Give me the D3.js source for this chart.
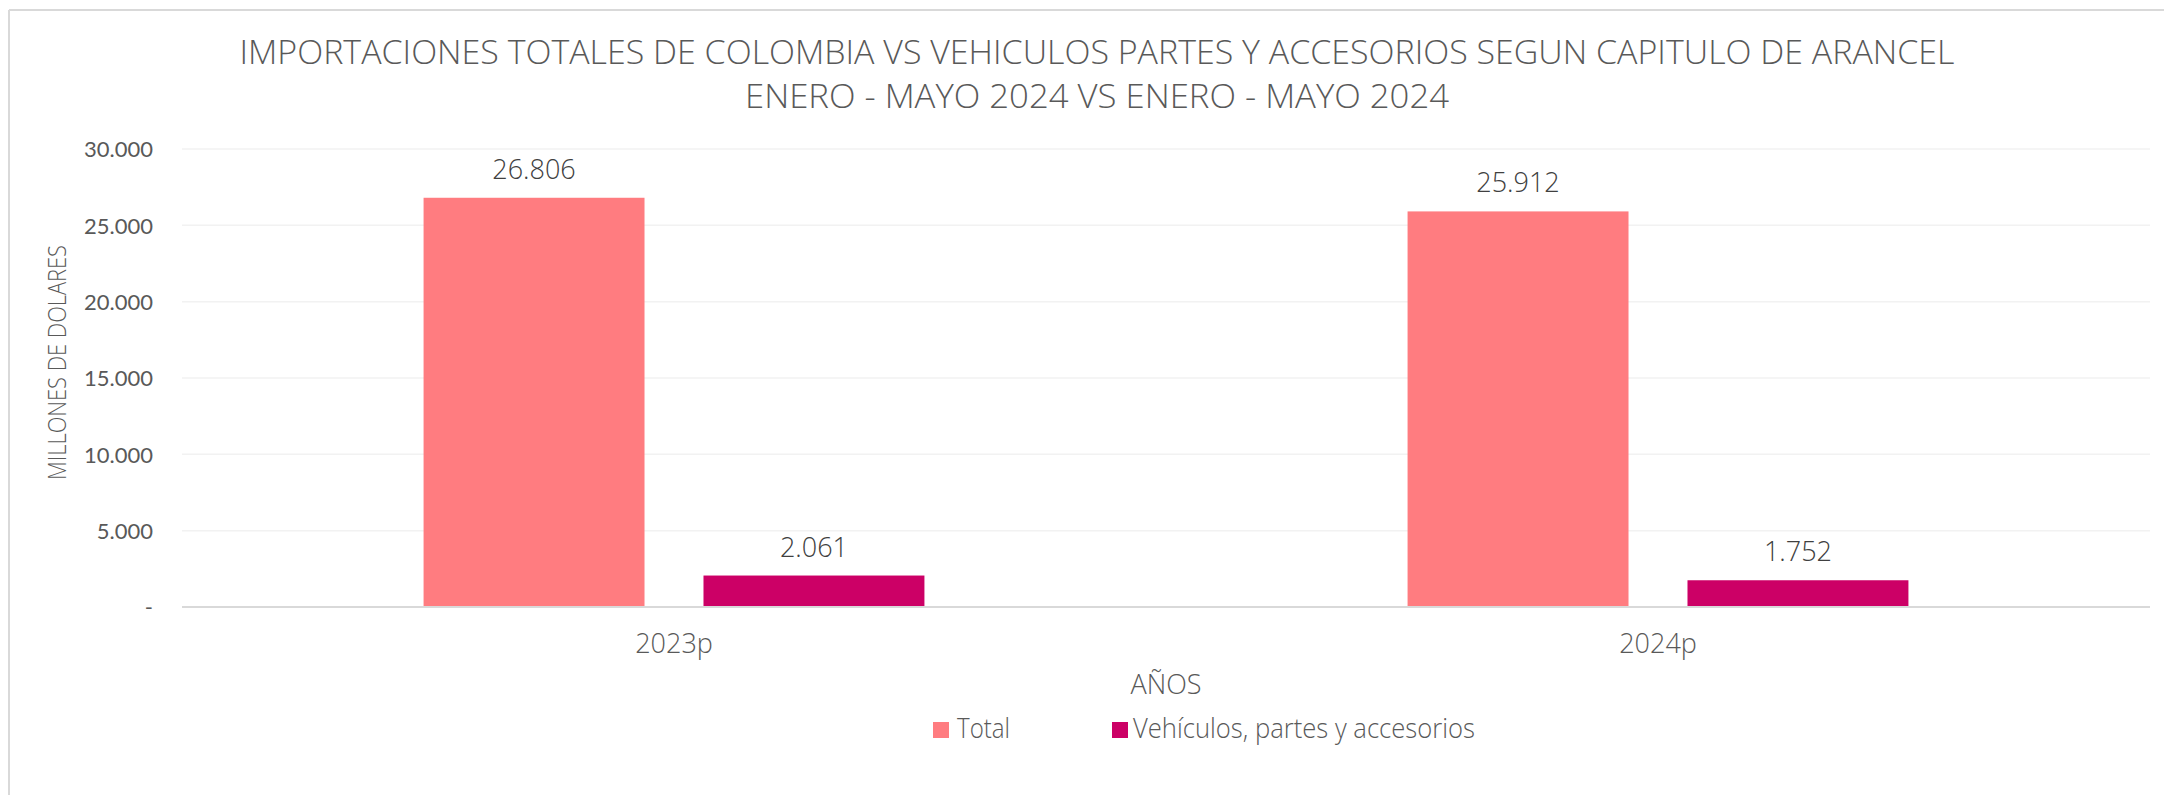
<!DOCTYPE html>
<html>
<head>
<meta charset="utf-8">
<script src="https://cdn.jsdelivr.net/npm/d3@7"></script>
<style>
  html, body { margin: 0; padding: 0; background: #fff; }
  svg { display: block; }
  text { fill: #595959; }
</style>
</head>
<body>
<svg id="chart" width="2164" height="795"></svg>
<script>
// ---- data ----
const titleLines = [
  "IMPORTACIONES TOTALES DE COLOMBIA VS VEHICULOS PARTES Y ACCESORIOS SEGUN CAPITULO DE ARANCEL",
  "ENERO - MAYO 2024 VS ENERO - MAYO 2024"
];
const categories = ["2023p", "2024p"];
const seriesNames = ["Total", "Vehículos, partes y accesorios"];
const totalValues = [26806, 25912];
const vehiculosValues = [2061, 1752];
const yTicks = [0, 5000, 10000, 15000, 20000, 25000, 30000];
const yAxisTitle = "MILLONES DE DOLARES";
const xAxisTitle = "AÑOS";
const colors = ["#FF7C80", "#CC0066"];

const seriesValues = [totalValues, vehiculosValues];
const rows = categories.map((c, i) => ({
  cat: c,
  vals: seriesNames.map((s, j) => ({ series: s, value: seriesValues[j][i], color: colors[j] }))
}));

const loc = d3.formatLocale({ decimal: ",", thousands: ".", grouping: [3], currency: ["$", ""] });
const fmt = loc.format(",d");

const svg = d3.select("#chart");
const W = 2164, H = 795;
svg.append("rect").attr("width", W).attr("height", H).attr("fill", "#fff");

// outer frame (left & top visible)
svg.append("line").attr("x1", 9).attr("x2", 9).attr("y1", 10).attr("y2", H)
  .attr("stroke", "#d9d9d9").attr("stroke-width", 2);
svg.append("line").attr("x1", 9).attr("x2", W).attr("y1", 10).attr("y2", 10)
  .attr("stroke", "#d9d9d9").attr("stroke-width", 2);

const plotL = 182, plotR = 2150, plotT = 149, plotB = 607;

const x0 = d3.scaleBand().domain(categories).range([plotL, plotR])
  .paddingInner(0.491).paddingOuter(0.2455);
const x1 = d3.scaleBand().domain(seriesNames).range([0, x0.bandwidth()])
  .paddingInner(0.2107);
const y = d3.scaleLinear().domain([0, 30000]).range([plotB, plotT]);

// gridlines
svg.append("g").selectAll("line").data(yTicks.filter(t => t > 0)).join("line")
  .attr("x1", plotL).attr("x2", plotR)
  .attr("y1", d => y(d)).attr("y2", d => y(d))
  .attr("stroke", "#f2f2f2").attr("stroke-width", 1.5);

// y axis labels
const yAxis = d3.axisLeft(y).tickValues(yTicks).tickSize(0).tickPadding(0)
  .tickFormat(d => d === 0 ? "-" : fmt(d));
const gy = svg.append("g").attr("transform", `translate(153,0)`).call(yAxis);
gy.select(".domain").remove();
gy.selectAll("text").attr("font-family", "Lato, 'Open Sans', sans-serif")
  .attr("font-size", 22).style("fill", "#595959").attr("dy", "0.35em");

// bars
const groups = svg.append("g").selectAll("g").data(rows).join("g")
  .attr("transform", d => `translate(${x0(d.cat)},0)`);
groups.selectAll("rect").data(d => d.vals).join("rect")
  .attr("x", d => x1(d.series)).attr("width", x1.bandwidth())
  .attr("y", d => y(d.value)).attr("height", d => y(0) - y(d.value))
  .attr("fill", d => d.color);
groups.selectAll("text.lbl").data(d => d.vals).join("text").attr("class", "lbl")
  .attr("x", d => x1(d.series) + x1.bandwidth() / 2)
  .attr("y", d => y(d.value) - 19)
  .attr("text-anchor", "middle")
  .attr("font-family", "'Open Sans', sans-serif").attr("font-weight", 300)
  .attr("font-size", 27).style("fill", "#404040")
  .text(d => fmt(d.value));

// baseline
svg.append("line").attr("x1", plotL).attr("x2", plotR)
  .attr("y1", y(0)).attr("y2", y(0))
  .attr("stroke", "#d9d9d9").attr("stroke-width", 2);

// x axis category labels
const xAxis = d3.axisBottom(x0).tickSize(0).tickPadding(0);
const gx = svg.append("g").attr("transform", `translate(0,${plotB})`).call(xAxis);
gx.select(".domain").remove();
gx.selectAll("text").attr("y", 46).attr("dy", null)
  .attr("font-family", "'Open Sans', sans-serif").attr("font-weight", 300)
  .attr("font-size", 27).style("fill", "#595959");

// title (two lines)
const titleY = [63.5, 108], titleW = [1715, 704];
titleLines.forEach((t, i) => {
  svg.append("text").attr("text-anchor", "middle")
    .attr("font-family", "'Open Sans', sans-serif").attr("font-weight", 300)
    .attr("font-size", 33)
    .attr("x", 1097).attr("y", titleY[i])
    .attr("textLength", titleW[i]).attr("lengthAdjust", "spacingAndGlyphs")
    .text(t);
});

// y axis title
svg.append("text").attr("transform", "translate(66,362.5) rotate(-90)")
  .attr("text-anchor", "middle")
  .attr("font-family", "'Open Sans', sans-serif").attr("font-weight", 300)
  .attr("font-size", 26).attr("textLength", 235).attr("lengthAdjust", "spacingAndGlyphs")
  .text(yAxisTitle);

// x axis title
svg.append("text").attr("x", (plotL + plotR) / 2).attr("y", 694).attr("text-anchor", "middle")
  .attr("font-family", "'Open Sans', sans-serif").attr("font-weight", 300)
  .attr("font-size", 27).text(xAxisTitle);

// legend
const legendX = [933, 1112];
const legendTextW = [53, 342];
const lg = svg.append("g").selectAll("g").data(seriesNames).join("g")
  .attr("transform", (d, i) => `translate(${legendX[i]},722)`);
lg.append("rect").attr("width", 16).attr("height", 16).attr("fill", (d, i) => colors[i]);
lg.append("text").attr("x", (d, i) => i === 0 ? 24 : 21).attr("y", 16)
  .attr("font-family", "'Open Sans', sans-serif").attr("font-weight", 300)
  .attr("font-size", 27).style("fill", "#595959")
  .attr("textLength", (d, i) => legendTextW[i]).attr("lengthAdjust", "spacingAndGlyphs")
  .text(d => d);
</script>
</body>
</html>
